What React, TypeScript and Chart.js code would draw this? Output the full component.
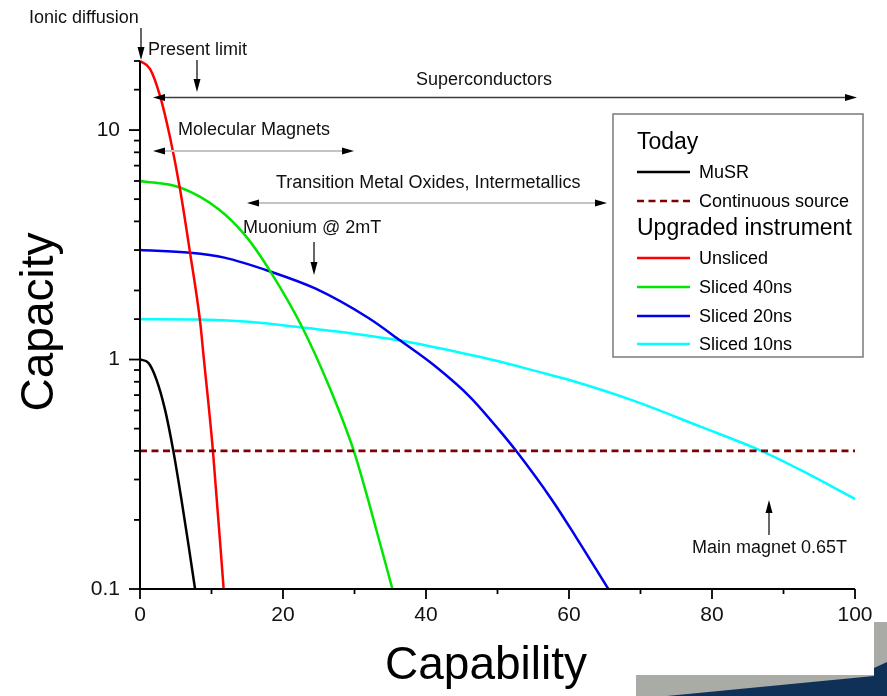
import React, { useEffect, useRef } from 'react';
import { Chart, registerables } from 'chart.js';
Chart.register(...registerables);

const FONT = '"Liberation Sans", Arial, sans-serif';

// ---- data ----
const musrX = [0, 1.17, 2.3, 3.5, 4.66, 5.8, 6.75, 7.7];
const musrY = [1.0, 0.967, 0.818, 0.605, 0.4, 0.245, 0.158, 0.1];
const continuousX = [0, 100];
const continuousY = [0.4, 0.4];
const unslicedX = [0, 1.4, 2.8, 4.2, 5.6, 7.0, 8.4, 8.9, 10.2, 11.7];
const unslicedY = [20, 18.5, 14.1, 9.3, 5.52, 2.92, 1.47, 1.03, 0.4, 0.1];
const sliced40X = [0, 5.6, 11.0, 14.8, 18.2, 22.6, 26.4, 29.9, 31.9, 35.3];
const sliced40Y = [6.0, 5.62, 4.52, 3.45, 2.43, 1.4, 0.77, 0.4, 0.245, 0.1];
const sliced20X = [0, 7.0, 11.8, 18.2, 24.5, 31.9, 36.4, 41.3, 46.1, 50.3, 52.6, 57.6, 61.0, 65.5];
const sliced20Y = [3.0, 2.92, 2.78, 2.42, 2.04, 1.52, 1.21, 0.935, 0.69, 0.49, 0.4, 0.245, 0.168, 0.1];
const sliced10X = [0, 8.2, 15.2, 22.6, 29.6, 36.4, 46.1, 50.3, 55.4, 59.7, 69.0, 78.3, 86.9, 92.3, 100];
const sliced10Y = [1.5, 1.495, 1.46, 1.38, 1.3, 1.21, 1.05, 0.98, 0.89, 0.82, 0.662, 0.511, 0.4, 0.331, 0.247];

const seriesLabels = ['MuSR', 'Continuous source', 'Unsliced', 'Sliced 40ns', 'Sliced 20ns', 'Sliced 10ns'];
const legendHeaders = ['Today', 'Upgraded instrument'];
const xTickLabels = ['0', '20', '40', '60', '80', '100'];
const yTickLabels = ['0.1', '1', '10'];
const xTitle = 'Capability';
const yTitle = 'Capacity';

const pts = (xs: number[], ys: number[]) => xs.map((x, i) => ({ x, y: ys[i] }));

const colors = ['#000000', '#800000', '#ff0000', '#00e600', '#0000ee', '#00ffff'];

function arrowHead(ctx: CanvasRenderingContext2D, x: number, y: number, dx: number, dy: number, len = 12, hw = 3.5) {
  const px = -dy, py = dx;
  ctx.beginPath();
  ctx.moveTo(x, y);
  ctx.lineTo(x - dx * len + px * hw, y - dy * len + py * hw);
  ctx.lineTo(x - dx * len - px * hw, y - dy * len - py * hw);
  ctx.closePath();
  ctx.fillStyle = '#000';
  ctx.fill();
}

function hArrow(ctx: CanvasRenderingContext2D, x1: number, x2: number, y: number, color: string, w: number) {
  ctx.strokeStyle = color;
  ctx.lineWidth = w;
  ctx.beginPath();
  ctx.moveTo(x1 + 10, y);
  ctx.lineTo(x2 - 10, y);
  ctx.stroke();
  arrowHead(ctx, x1, y, -1, 0);
  arrowHead(ctx, x2, y, 1, 0);
}

function vArrow(ctx: CanvasRenderingContext2D, x: number, y1: number, y2: number) {
  const d = y2 > y1 ? 1 : -1;
  ctx.strokeStyle = '#000';
  ctx.lineWidth = 1.2;
  ctx.beginPath();
  ctx.moveTo(x, y1);
  ctx.lineTo(x, y2 - d * 10);
  ctx.stroke();
  arrowHead(ctx, x, y2, 0, d, 13, 3.5);
}

function isDecade(v: number) {
  const l = Math.log10(v);
  return Math.abs(l - Math.round(l)) < 1e-6;
}

const overlay = {
  id: 'overlay',
  afterDraw(chart: any) {
    const ctx: CanvasRenderingContext2D = chart.ctx;
    const xs = chart.scales.x;
    const ys = chart.scales.y;
    const { left, right, top, bottom } = chart.chartArea;
    ctx.save();

    // axes
    ctx.strokeStyle = '#000';
    ctx.lineWidth = 2;
    ctx.beginPath();
    ctx.moveTo(left, top);
    ctx.lineTo(left, bottom);
    ctx.lineTo(right, bottom);
    ctx.stroke();
    ctx.lineWidth = 1.8;
    xs.ticks.forEach((t: any) => {
      const px = xs.getPixelForValue(t.value);
      const len = Math.round(t.value) % 20 === 0 ? 10 : 5;
      ctx.beginPath();
      ctx.moveTo(px, bottom);
      ctx.lineTo(px, bottom + len);
      ctx.stroke();
    });
    ys.ticks.forEach((t: any) => {
      const py = ys.getPixelForValue(t.value);
      const len = isDecade(t.value) ? 11 : 6;
      ctx.beginPath();
      ctx.moveTo(left, py);
      ctx.lineTo(left - len, py);
      ctx.stroke();
    });

    // axis titles
    ctx.fillStyle = '#000';
    ctx.font = `46px ${FONT}`;
    ctx.textAlign = 'center';
    ctx.textBaseline = 'alphabetic';
    ctx.fillText(xTitle, 486, 679);
    ctx.save();
    ctx.translate(53, 322);
    ctx.rotate(-Math.PI / 2);
    ctx.fillText(yTitle, 0, 0);
    ctx.restore();

    // annotations
    ctx.fillStyle = '#111';
    ctx.font = `18px ${FONT}`;
    ctx.textBaseline = 'middle';
    ctx.textAlign = 'left';
    ctx.fillText('Ionic diffusion', 29, 18);
    ctx.fillText('Present limit', 148, 50);
    ctx.fillText('Molecular Magnets', 178, 130);
    ctx.fillText('Transition Metal Oxides, Intermetallics', 276, 183);
    ctx.fillText('Muonium @ 2mT', 243, 228);
    ctx.fillText('Main magnet 0.65T', 692, 548);
    ctx.textAlign = 'center';
    ctx.fillText('Superconductors', 484, 80);

    vArrow(ctx, 141, 28, 60);
    vArrow(ctx, 197, 60, 92);
    vArrow(ctx, 314, 242, 275);
    vArrow(ctx, 769, 535, 500);
    hArrow(ctx, 153, 857, 97.5, '#3c3c3c', 1.3);
    hArrow(ctx, 153, 354, 151, '#c4c4c4', 2);
    hArrow(ctx, 247, 607, 203, '#c4c4c4', 2);

    // legend
    const bx = 613, by = 114, bw = 250, bh = 243;
    ctx.fillStyle = '#fff';
    ctx.fillRect(bx, by, bw, bh);
    ctx.strokeStyle = '#7a7a7a';
    ctx.lineWidth = 1.5;
    ctx.strokeRect(bx, by, bw, bh);
    const rowsY = [143, 172, 201, 229, 258, 287, 316, 344];
    const rows: any[] = [
      { h: legendHeaders[0] }, { d: 0 }, { d: 1 },
      { h: legendHeaders[1] }, { d: 2 }, { d: 3 }, { d: 4 }, { d: 5 },
    ];
    rows.forEach((r, i) => {
      const y = rowsY[i];
      ctx.textAlign = 'left';
      ctx.textBaseline = 'middle';
      ctx.fillStyle = '#000';
      if (r.h) {
        ctx.font = `23px ${FONT}`;
        ctx.fillText(r.h, 637, y);
      } else {
        const ds = chart.data.datasets[r.d];
        ctx.strokeStyle = ds.borderColor;
        ctx.lineWidth = 2.5;
        ctx.setLineDash(ds.borderDash || []);
        ctx.beginPath();
        ctx.moveTo(637, y);
        ctx.lineTo(690, y);
        ctx.stroke();
        ctx.setLineDash([]);
        ctx.font = `18px ${FONT}`;
        ctx.fillText(ds.label, 699, y + 1);
      }
    });

    // slide decoration (bottom right)
    ctx.fillStyle = '#a9aba6';
    ctx.fillRect(636, 675, 251, 21);
    ctx.fillRect(874, 622, 13, 53);
    ctx.fillStyle = '#0f3157';
    ctx.beginPath();
    ctx.moveTo(667, 696);
    ctx.lineTo(874, 676);
    ctx.lineTo(874, 668);
    ctx.lineTo(887, 662);
    ctx.lineTo(887, 696);
    ctx.closePath();
    ctx.fill();

    ctx.restore();
  },
};

export default function App() {
  const ref = useRef<HTMLCanvasElement>(null);
  useEffect(() => {
    document.body.style.margin = '0';
    const mk = (i: number, xs: number[], ys: number[], extra: any = {}) => ({
      label: seriesLabels[i],
      data: pts(xs, ys),
      borderColor: colors[i],
      backgroundColor: colors[i],
      borderWidth: 2.5,
      pointRadius: 0,
      fill: false,
      cubicInterpolationMode: 'monotone',
      clip: false,
      ...extra,
    });
    const chart = new Chart(ref.current!, {
      type: 'line',
      data: {
        datasets: [
          mk(0, musrX, musrY),
          mk(1, continuousX, continuousY, { borderDash: [7, 4.5], borderWidth: 2.8 }),
          mk(2, unslicedX, unslicedY),
          mk(3, sliced40X, sliced40Y),
          mk(4, sliced20X, sliced20Y),
          mk(5, sliced10X, sliced10Y),
        ],
      },
      options: {
        animation: false,
        responsive: false,
        devicePixelRatio: 1,
        layout: { padding: { top: 61, right: 32, left: 0, bottom: 0 } },
        plugins: { legend: { display: false }, tooltip: { enabled: false }, title: { display: false } },
        scales: {
          x: {
            type: 'linear',
            min: 0,
            max: 100,
            grid: { display: false, drawTicks: false },
            border: { display: false },
            ticks: {
              stepSize: 10,
              autoSkip: false,
              maxRotation: 0,
              padding: 14,
              color: '#111',
              font: { family: FONT, size: 21 },
              callback: (v: any) => (Math.round(v) % 20 === 0 ? xTickLabels[Math.round(v) / 20] : ''),
            },
            afterFit: (s: any) => { s.height = 107; },
          },
          y: {
            type: 'logarithmic',
            min: 0.1,
            max: 20,
            grid: { display: false, drawTicks: false },
            border: { display: false },
            ticks: {
              autoSkip: false,
              padding: 20,
              color: '#111',
              font: { family: FONT, size: 21 },
              callback: (v: any) => (isDecade(v) ? yTickLabels[Math.round(Math.log10(v)) + 1] : ''),
            },
            afterFit: (s: any) => { s.width = 140; },
          },
        },
      } as any,
      plugins: [overlay],
    });
    return () => chart.destroy();
  }, []);
  return (
    <div style={{ width: 887, height: 696, position: 'relative' }}>
      <canvas ref={ref} width={887} height={696} style={{ display: 'block', width: 887, height: 696 }} />
    </div>
  );
}
